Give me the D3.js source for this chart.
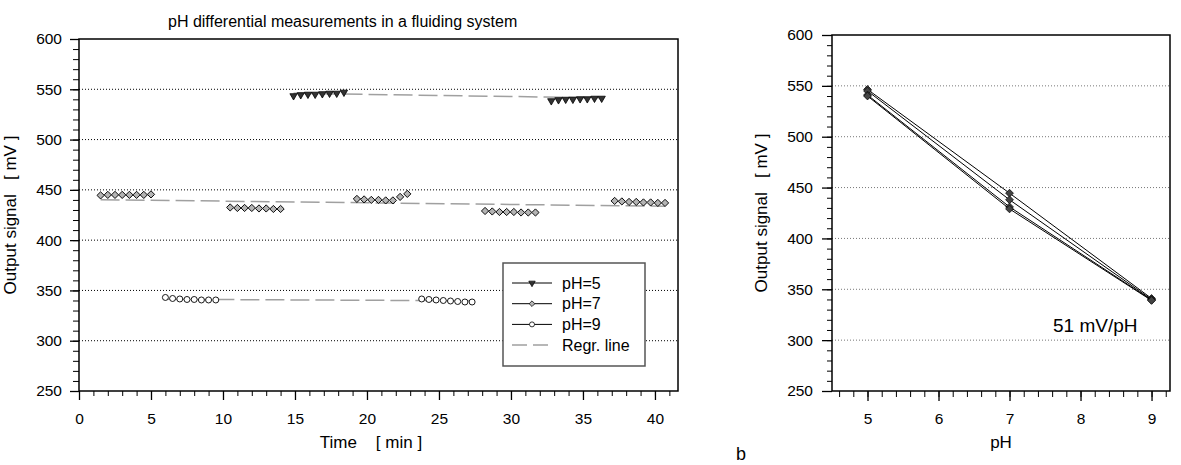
<!DOCTYPE html>
<html>
<head>
<meta charset="utf-8">
<script src="https://cdn.jsdelivr.net/npm/d3@7"></script>
<style>
body { margin: 0; background: #fff; }
text { font-family: Arial, "Liberation Sans", sans-serif; fill: #000; }
</style>
</head>
<body>
<div id="chart"></div>
<script>
// ---- data ----
var time_ph5_a = [14.9, 15.4, 15.9, 16.4, 16.9, 17.4, 17.9, 18.4];
var sig_ph5_a  = [543.5, 544.5, 545, 545, 545.5, 546, 546, 547];
var time_ph5_b = [32.8, 33.3, 33.8, 34.3, 34.8, 35.3, 35.8, 36.3];
var sig_ph5_b  = [538.5, 539.5, 540, 540, 540.5, 540.5, 541, 541];

var time_ph7_a = [1.5, 2.0, 2.5, 3.0, 3.5, 4.0, 4.5, 5.0];
var sig_ph7_a  = [444.5, 445, 445, 445, 445, 445, 445, 445.5];
var time_ph7_b = [10.5, 11.0, 11.5, 12.0, 12.5, 13.0, 13.5, 14.0];
var sig_ph7_b  = [432.5, 432, 432, 432, 431.5, 431.5, 431, 431];
var time_ph7_c = [19.3, 19.8, 20.3, 20.8, 21.3, 21.8, 22.3, 22.8];
var sig_ph7_c  = [441, 440.5, 440, 440, 439.5, 439.5, 443, 446];
var time_ph7_d = [28.2, 28.7, 29.2, 29.7, 30.2, 30.7, 31.2, 31.7];
var sig_ph7_d  = [429, 428.5, 428, 428, 428, 427.5, 427.5, 427.5];
var time_ph7_e = [37.2, 37.7, 38.2, 38.7, 39.2, 39.7, 40.2, 40.7];
var sig_ph7_e  = [439, 438.5, 438, 438, 437.5, 437.5, 437, 437];

var time_ph9_a = [6.0, 6.5, 7.0, 7.5, 8.0, 8.5, 9.0, 9.5];
var sig_ph9_a  = [343, 342, 341.5, 341, 341, 340.5, 340.5, 340.5];
var time_ph9_b = [23.8, 24.3, 24.8, 25.3, 25.8, 26.3, 26.8, 27.3];
var sig_ph9_b  = [341.5, 341, 340.5, 340, 339.5, 339, 338.5, 338.5];

// regression lines (end points)
var regr_time_5 = [14.9, 36.3], regr_sig_5 = [546, 541.5];
var regr_time_7 = [1.5, 40.7],  regr_sig_7 = [440.2, 433.7];
var regr_time_9 = [6.0, 27.3],  regr_sig_9 = [341.2, 339.7];

// calibration plot (b)
var ph_values = [5, 7, 9];
var calib_run1 = [546.5, 444.5, 341];
var calib_run2 = [545, 438, 340];
var calib_run3 = [541, 431, 339.5];
var calib_run4 = [540, 429, 339];

var legend_labels = ["pH=5", "pH=7", "pH=9", "Regr. line"];
var title_text = "pH differential measurements in a fluiding system";

var W = 1181, H = 465;
var FS = "15.5px";      // tick labels, legend
var FS_AX = "17px";     // axis titles

var svg = d3.select("#chart")
    .append("svg")
    .attr("width", W)
    .attr("height", H);

function zip(xs, ys) {
    return xs.map(function (d, i) { return {x: d, y: ys[i]}; });
}

// ================= left chart =================
var L = {left: 79, right: 678, top: 39, bottom: 391};

var x = d3.scaleLinear().domain([0, 41.6]).range([L.left, L.right]);
var y = d3.scaleLinear().domain([250, 600]).range([L.bottom, L.top]);

var gL = svg.append("g").attr("id", "left_chart");

// dotted grid
gL.selectAll(".grid")
    .data([300, 350, 400, 450, 500, 550])
    .enter()
    .append("line")
    .attr("x1", L.left).attr("x2", L.right)
    .attr("y1", function (d) { return y(d); })
    .attr("y2", function (d) { return y(d); })
    .attr("stroke", "#000")
    .attr("stroke-width", 1)
    .attr("stroke-dasharray", "1,2");

// minor ticks
gL.append("g")
    .attr("transform", "translate(0," + L.bottom + ")")
    .call(d3.axisBottom(x).tickValues(d3.range(0, 42, 1)).tickSize(5).tickFormat(""))
    .call(function (g) { g.select(".domain").remove(); });
gL.append("g")
    .attr("transform", "translate(" + L.left + ",0)")
    .call(d3.axisLeft(y).tickValues(d3.range(250, 601, 10)).tickSize(6).tickFormat(""))
    .call(function (g) { g.select(".domain").remove(); });

// major axes
var xAxisL = gL.append("g")
    .attr("transform", "translate(0," + L.bottom + ")")
    .call(d3.axisBottom(x).tickValues(d3.range(0, 41, 5)).tickSize(9).tickPadding(13).tickFormat(d3.format("d")));
var yAxisL = gL.append("g")
    .attr("transform", "translate(" + L.left + ",0)")
    .call(d3.axisLeft(y).tickValues(d3.range(250, 601, 50)).tickSize(9).tickPadding(8));

[xAxisL, yAxisL].forEach(function (a) {
    a.selectAll("text").style("font-size", FS).attr("fill", "#000");
    a.selectAll("line").attr("stroke-width", 1.3);
    a.select(".domain").remove();
});
gL.selectAll(".tick line").attr("stroke", "#000");

// frame
gL.append("rect")
    .attr("x", L.left).attr("y", L.top)
    .attr("width", L.right - L.left).attr("height", L.bottom - L.top)
    .attr("fill", "none").attr("stroke", "#000").attr("stroke-width", 1.5);

// regression lines
var line = d3.line().x(function (d) { return x(d.x); }).y(function (d) { return y(d.y); });
[[regr_time_5, regr_sig_5], [regr_time_7, regr_sig_7], [regr_time_9, regr_sig_9]].forEach(function (r) {
    gL.append("path")
        .datum(zip(r[0], r[1]))
        .attr("d", line)
        .attr("fill", "none")
        .attr("stroke", "#a0a0a0")
        .attr("stroke-width", 1.5)
        .attr("stroke-dasharray", "19,6");
});

var sym_tri = d3.symbol().type(d3.symbolTriangle).size(23);
var sym_dia = d3.symbol().type(d3.symbolSquare).size(26);

function drawPoints(g, data, kind, xs, ys) {
    var sel = g.selectAll(null).data(data).enter();
    if (kind === "tri") {
        sel.append("path")
            .attr("d", sym_tri)
            .attr("transform", function (d) { return "translate(" + xs(d.x) + "," + ys(d.y) + ") rotate(180)"; })
            .attr("fill", "#333").attr("stroke", "#000").attr("stroke-width", 0.8);
    } else if (kind === "dia") {
        sel.append("path")
            .attr("d", sym_dia)
            .attr("transform", function (d) { return "translate(" + xs(d.x) + "," + ys(d.y) + ") rotate(45)"; })
            .attr("fill", "#b4b4b4").attr("stroke", "#000").attr("stroke-width", 0.9);
    } else {
        sel.append("circle")
            .attr("cx", function (d) { return xs(d.x); })
            .attr("cy", function (d) { return ys(d.y); })
            .attr("r", 3)
            .attr("fill", "#fff").attr("stroke", "#000").attr("stroke-width", 0.9);
    }
}

drawPoints(gL, zip(time_ph5_a, sig_ph5_a), "tri", x, y);
drawPoints(gL, zip(time_ph5_b, sig_ph5_b), "tri", x, y);
drawPoints(gL, zip(time_ph7_a, sig_ph7_a), "dia", x, y);
drawPoints(gL, zip(time_ph7_b, sig_ph7_b), "dia", x, y);
drawPoints(gL, zip(time_ph7_c, sig_ph7_c), "dia", x, y);
drawPoints(gL, zip(time_ph7_d, sig_ph7_d), "dia", x, y);
drawPoints(gL, zip(time_ph7_e, sig_ph7_e), "dia", x, y);
drawPoints(gL, zip(time_ph9_a, sig_ph9_a), "cir", x, y);
drawPoints(gL, zip(time_ph9_b, sig_ph9_b), "cir", x, y);

// title and labels
gL.append("text")
    .attr("x", 168).attr("y", 27)
    .style("font-size", "16px")
    .text(title_text);

gL.append("text")
    .attr("x", 371).attr("y", 448)
    .style("text-anchor", "middle")
    .style("font-size", FS_AX)
    .style("white-space", "pre")
    .text("Time    [ min ]");

gL.append("text")
    .attr("transform", "translate(16," + ((L.top + L.bottom) / 2) + ") rotate(-90)")
    .style("text-anchor", "middle")
    .style("font-size", FS_AX)
    .style("white-space", "pre")
    .text("Output signal   [ mV ]");

// legend
var lg = gL.append("g").attr("transform", "translate(503,263)");
lg.append("rect")
    .attr("width", 142).attr("height", 103)
    .attr("fill", "#fff").attr("stroke", "#555").attr("stroke-width", 1.5);
legend_labels.forEach(function (lab, i) {
    var cy = 20 + i * 20.7;
    var ln = lg.append("line")
        .attr("x1", 9).attr("x2", 49).attr("y1", cy).attr("y2", cy);
    if (i < 3) {
        ln.attr("stroke", "#000").attr("stroke-width", 1);
    } else {
        ln.attr("stroke", "#a0a0a0").attr("stroke-width", 1.5).attr("stroke-dasharray", "15,6");
    }
    if (i === 0) {
        lg.append("path").attr("d", d3.symbol().type(d3.symbolTriangle).size(18))
            .attr("transform", "translate(29," + cy + ") rotate(180)")
            .attr("fill", "#333").attr("stroke", "#000").attr("stroke-width", 0.7);
    } else if (i === 1) {
        lg.append("path").attr("d", d3.symbol().type(d3.symbolSquare).size(16))
            .attr("transform", "translate(29," + cy + ") rotate(45)")
            .attr("fill", "#b4b4b4").attr("stroke", "#000").attr("stroke-width", 0.7);
    } else if (i === 2) {
        lg.append("circle").attr("cx", 29).attr("cy", cy).attr("r", 2.5)
            .attr("fill", "#fff").attr("stroke", "#000").attr("stroke-width", 0.8);
    }
    lg.append("text")
        .attr("x", 59).attr("y", cy + 5.5)
        .style("font-size", "16px")
        .text(lab);
});

// ================= right chart =================
var R = {left: 832, right: 1170, top: 35, bottom: 391};

var x2 = d3.scaleLinear().domain([4.5, 9.26]).range([R.left, R.right]);
var y2 = d3.scaleLinear().domain([250, 600]).range([R.bottom, R.top]);

var gR = svg.append("g").attr("id", "right_chart");

gR.selectAll(".grid")
    .data([300, 350, 400, 450, 500, 550])
    .enter()
    .append("line")
    .attr("x1", R.left).attr("x2", R.right)
    .attr("y1", function (d) { return y2(d); })
    .attr("y2", function (d) { return y2(d); })
    .attr("stroke", "#777")
    .attr("stroke-width", 1)
    .attr("stroke-dasharray", "1,2");

gR.append("g")
    .attr("transform", "translate(0," + R.bottom + ")")
    .call(d3.axisBottom(x2).tickValues(d3.range(4.6, 9.25, 0.2)).tickSize(6).tickFormat(""))
    .call(function (g) { g.select(".domain").remove(); });
gR.append("g")
    .attr("transform", "translate(" + R.left + ",0)")
    .call(d3.axisLeft(y2).tickValues(d3.range(250, 601, 10)).tickSize(5).tickFormat(""))
    .call(function (g) { g.select(".domain").remove(); });

var xAxisR = gR.append("g")
    .attr("transform", "translate(0," + R.bottom + ")")
    .call(d3.axisBottom(x2).tickValues(d3.range(5, 10, 1)).tickSize(10).tickPadding(12).tickFormat(d3.format("d")));
var yAxisR = gR.append("g")
    .attr("transform", "translate(" + R.left + ",0)")
    .call(d3.axisLeft(y2).tickValues(d3.range(250, 601, 50)).tickSize(10).tickPadding(9));

[xAxisR, yAxisR].forEach(function (a) {
    a.selectAll("text").style("font-size", FS).attr("fill", "#000");
    a.selectAll("line").attr("stroke-width", 1.3);
    a.select(".domain").remove();
});
gR.selectAll(".tick line").attr("stroke", "#000");

gR.append("rect")
    .attr("x", R.left).attr("y", R.top)
    .attr("width", R.right - R.left).attr("height", R.bottom - R.top)
    .attr("fill", "none").attr("stroke", "#000").attr("stroke-width", 1.5);

var line2 = d3.line().x(function (d) { return x2(d.x); }).y(function (d) { return y2(d.y); });
[calib_run1, calib_run2, calib_run3, calib_run4].forEach(function (run) {
    var pts = zip(ph_values, run);
    gR.append("path")
        .datum(pts)
        .attr("d", line2)
        .attr("fill", "none")
        .attr("stroke", "#000")
        .attr("stroke-width", 1);
    gR.selectAll(null).data(pts).enter()
        .append("path")
        .attr("d", d3.symbol().type(d3.symbolSquare).size(30))
        .attr("transform", function (d) { return "translate(" + x2(d.x) + "," + y2(d.y) + ") rotate(45)"; })
        .attr("fill", "#444").attr("stroke", "#111").attr("stroke-width", 0.8);
});

gR.append("text")
    .attr("x", 1053).attr("y", 332)
    .style("font-size", "19px")
    .text("51 mV/pH");

gR.append("text")
    .attr("x", (R.left + R.right) / 2).attr("y", 448)
    .style("text-anchor", "middle")
    .style("font-size", FS_AX)
    .text("pH");

gR.append("text")
    .attr("transform", "translate(767," + ((R.top + R.bottom) / 2) + ") rotate(-90)")
    .style("text-anchor", "middle")
    .style("font-size", FS_AX)
    .style("white-space", "pre")
    .text("Output signal   [ mV ]");

svg.append("text")
    .attr("x", 736).attr("y", 460)
    .style("font-size", "18px")
    .text("b");
</script>
</body>
</html>
